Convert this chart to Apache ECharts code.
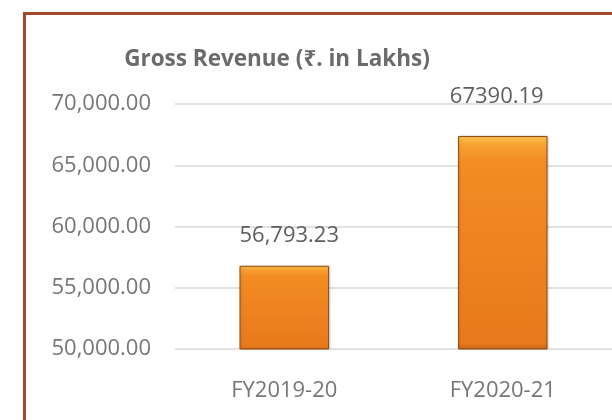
<!DOCTYPE html>
<html>
<head>
<meta charset="utf-8">
<script src="https://cdn.jsdelivr.net/npm/echarts@6/dist/echarts.min.js"></script>
<style>
  html, body { margin: 0; padding: 0; background: #fff; overflow: hidden; }
  #frame { position: absolute; left: 23px; top: 12px; width: 700px; height: 500px; border: 3px solid #a3492a; }
  #chart { position: absolute; left: 0; top: 0; width: 612px; height: 420px; }
</style>
</head>
<body>
<div id="frame"></div>
<div id="chart"></div>
<script>
// 数据
var categories = ['FY2019-20', 'FY2020-21'];
var revenue = [56793.23, 67390.19];
var valueLabels = ['56,793.23', '67390.19'];
var yTicks = [50000, 55000, 60000, 65000, 70000];

var myChart = echarts.init(document.getElementById('chart'));

var barColor = new echarts.graphic.LinearGradient(0, 0, 0, 1, [
  { offset: 0, color: '#fcc24c' },
  { offset: 0.04, color: '#f7a333' },
  { offset: 0.12, color: '#f38c23' },
  { offset: 0.97, color: '#e8791c' },
  { offset: 1, color: '#c9661a' }
]);

var option = {
  animation: false,
  title: {
    text: 'Gross Revenue (₹. in Lakhs)',
    left: 272,
    top: 43,
    textAlign: 'center',
    textStyle: {
      fontFamily: '"Open Sans", "Noto Sans", sans-serif',
      fontSize: 22.5,
      fontWeight: 'bold',
      color: '#6b6b6b'
    }
  },
  grid: {
    left: 175,
    right: 0,
    top: 104,
    bottom: 71
  },
  xAxis: {
    type: 'category',
    data: categories,
    axisTick: { show: false },
    axisLine: { show: false },
    axisLabel: {
      margin: 31,
      fontFamily: '"Open Sans", sans-serif',
      fontSize: 22,
      color: '#767676'
    }
  },
  yAxis: {
    type: 'value',
    min: yTicks[0],
    max: yTicks[yTicks.length - 1],
    interval: 5000,
    axisTick: { show: false },
    axisLine: { show: false },
    axisLabel: {
      margin: 24,
      fontFamily: '"Open Sans", sans-serif',
      fontSize: 22,
      color: '#767676',
      formatter: function (v) {
        return v.toLocaleString('en-US', { minimumFractionDigits: 2, maximumFractionDigits: 2 });
      }
    },
    splitLine: { lineStyle: { color: '#d9d9d9', width: 1.5 } }
  },
  series: [{
    type: 'bar',
    barWidth: '41%',
    data: [
      { value: revenue[0], label: { offset: [5, -14] } },
      { value: revenue[1], label: { offset: [-6, -23] } }
    ],
    itemStyle: {
      color: barColor,
      borderColor: '#8f4d16',
      borderWidth: 1,
      shadowColor: 'rgba(0,0,0,0.15)',
      shadowBlur: 2,
      shadowOffsetX: 1
    },
    label: {
      show: true,
      position: 'top',
      fontFamily: '"Open Sans", sans-serif',
      fontSize: 22,
      color: '#5e5e5e',
      formatter: function (p) { return valueLabels[p.dataIndex]; }
    }
  }]
};

myChart.setOption(option);
</script>
</body>
</html>
